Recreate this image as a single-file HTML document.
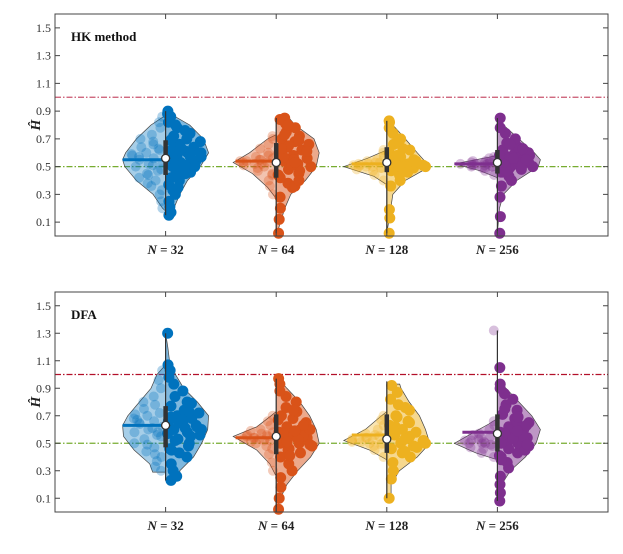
<!DOCTYPE html>
<html><head><meta charset="utf-8">
<style>
html,body{margin:0;padding:0;background:#fff;}
svg{display:block;font-family:"Liberation Serif",serif;}
</style></head>
<body>
<svg id="chart" width="623" height="554" viewBox="0 0 623 554"></svg>
<script>
// ---- data ----
const categories = ["N = 32","N = 64","N = 128","N = 256"];
const panelTitles = ["HK method","DFA"];
const yTicks = [0.1,0.3,0.5,0.7,0.9,1.1,1.3,1.5];
const yTickLabels = ["0.1","0.3","0.5","0.7","0.9","1.1","1.3","1.5"];
const refLines = [1.0,0.5];
const colors = ["#0072BD","#D95319","#EDB120","#7E2F8E"];
// box stats per panel: [q1,q3,median,mean,min,max]
const statsHK = [[0.44,0.69,0.56,0.55,0.15,0.90],[0.42,0.67,0.53,0.54,0.02,0.85],[0.46,0.64,0.53,0.52,0.02,0.83],[0.45,0.62,0.53,0.52,0.02,0.85]];
const statsDFA = [[0.47,0.77,0.63,0.63,0.23,1.30],[0.42,0.71,0.55,0.54,0.00,0.97],[0.43,0.71,0.53,0.56,0.10,0.95],[0.44,0.71,0.57,0.58,0.08,1.32]];
// density profiles: [value, relative width 0..1]
const profHK_L = [
 [[0.18,0],[0.2,0.07],[0.3,0.29],[0.4,0.68],[0.5,0.95],[0.55,1],[0.6,0.93],[0.7,0.68],[0.8,0.34],[0.87,0]],
 [[0.27,0],[0.35,0.2],[0.45,0.55],[0.53,1],[0.6,0.62],[0.7,0.2],[0.73,0]],
 [[0.37,0],[0.43,0.3],[0.5,1],[0.56,0.45],[0.62,0]],
 [[0.42,0],[0.47,0.4],[0.52,1],[0.55,0.5],[0.58,0]]];
const profHK_R = [
 [[0.15,0.2],[0.2,0.19],[0.3,0.33],[0.4,0.51],[0.5,0.81],[0.6,1],[0.7,0.88],[0.8,0.56],[0.9,0]],
 [[0.0,0],[0.1,0.1],[0.2,0.2],[0.3,0.34],[0.4,0.68],[0.5,0.93],[0.6,1],[0.7,0.88],[0.8,0.44],[0.85,0.3],[0.851,0]],
 [[0.02,0],[0.15,0.07],[0.3,0.14],[0.4,0.43],[0.5,1],[0.6,0.71],[0.7,0.43],[0.8,0.14],[0.83,0.08],[0.831,0]],
 [[0.02,0],[0.2,0.05],[0.3,0.14],[0.4,0.45],[0.5,0.95],[0.55,1],[0.6,0.86],[0.7,0.5],[0.8,0.14],[0.85,0]]];
const profDFA_L = [
 [[0.29,0.3],[0.35,0.37],[0.45,0.73],[0.55,0.98],[0.63,1],[0.7,0.88],[0.8,0.61],[0.9,0.34],[1.0,0.2],[1.07,0]],
 [[0.26,0],[0.35,0.15],[0.45,0.45],[0.55,1],[0.62,0.45],[0.7,0.12],[0.73,0]],
 [[0.38,0],[0.45,0.4],[0.52,1],[0.6,0.5],[0.68,0.2],[0.73,0]],
 [[0.38,0],[0.43,0.5],[0.5,1],[0.58,0.55],[0.64,0.2],[0.68,0]]];
const profDFA_R = [
 [[0.23,0.33],[0.3,0.33],[0.4,0.65],[0.5,0.84],[0.6,0.98],[0.7,1],[0.8,0.74],[0.9,0.42],[1.0,0.23],[1.1,0.09],[1.2,0.05],[1.3,0]],
 [[0.0,0],[0.1,0.1],[0.2,0.25],[0.3,0.5],[0.4,0.8],[0.5,1],[0.6,0.93],[0.7,0.78],[0.8,0.55],[0.9,0.25],[0.97,0.05],[0.971,0]],
 [[0.1,0.1],[0.2,0.1],[0.3,0.29],[0.4,0.71],[0.5,1],[0.6,0.9],[0.7,0.76],[0.8,0.52],[0.9,0.33],[0.93,0.3],[0.931,0]],
 [[0.08,0],[0.2,0.1],[0.3,0.3],[0.4,0.65],[0.5,0.9],[0.6,1],[0.7,0.8],[0.8,0.5],[0.9,0.2],[0.97,0]]];
// sample values (left = light scatter, right = dark scatter)
const ptsHK_L = [
 [0.2,0.25,0.3,0.33,0.36,0.4,0.42,0.45,0.47,0.5,0.52,0.53,0.55,0.56,0.58,0.6,0.62,0.64,0.66,0.7,0.73,0.78,0.82,0.86,0.48,0.57,0.51,0.59,0.44,0.63,0.38,0.68],
 [0.3,0.36,0.4,0.44,0.47,0.5,0.51,0.52,0.53,0.54,0.55,0.56,0.57,0.6,0.63,0.66,0.7,0.72,0.52,0.54,0.49,0.58,0.53,0.55,0.45],
 [0.4,0.44,0.47,0.49,0.5,0.5,0.51,0.52,0.53,0.54,0.55,0.57,0.6,0.62,0.52,0.5,0.49,0.51,0.53,0.48],
 [0.44,0.47,0.49,0.5,0.51,0.51,0.52,0.52,0.53,0.53,0.54,0.55,0.56,0.57,0.5,0.52,0.5,0.51,0.53,0.54,0.49,0.52]];
const ptsHK_R = [
 [0.15,0.17,0.21,0.25,0.3,0.33,0.37,0.4,0.43,0.46,0.48,0.5,0.52,0.53,0.55,0.57,0.58,0.6,0.61,0.62,0.64,0.66,0.68,0.7,0.72,0.74,0.78,0.82,0.86,0.9,0.5,0.6,0.56,0.45,0.63,0.88,0.59,0.65,0.54,0.47,0.69,0.76,0.62,0.57,0.51,0.42,0.35,0.8],
 [0.02,0.12,0.2,0.28,0.35,0.38,0.42,0.45,0.48,0.5,0.52,0.54,0.56,0.58,0.6,0.62,0.64,0.66,0.68,0.7,0.72,0.75,0.78,0.81,0.84,0.85,0.55,0.6,0.47,0.65,0.36,0.83,0.57,0.61,0.51,0.44,0.69,0.73,0.4,0.53,0.63,0.8],
 [0.02,0.13,0.19,0.36,0.4,0.44,0.47,0.49,0.5,0.51,0.52,0.53,0.55,0.57,0.6,0.63,0.66,0.7,0.74,0.78,0.82,0.83,0.5,0.48,0.52,0.54,0.5,0.56,0.46,0.58,0.62,0.68,0.5,0.53],
 [0.02,0.14,0.28,0.36,0.4,0.43,0.46,0.48,0.5,0.5,0.51,0.52,0.53,0.54,0.55,0.56,0.57,0.58,0.6,0.62,0.64,0.67,0.7,0.74,0.78,0.85,0.52,0.5,0.55,0.48,0.6,0.53,0.51,0.54,0.56,0.58,0.5,0.47,0.63,0.66,0.52,0.55]];
const ptsDFA_L = [
 [0.3,0.33,0.37,0.4,0.44,0.47,0.5,0.53,0.56,0.58,0.6,0.62,0.64,0.66,0.68,0.7,0.72,0.75,0.78,0.8,0.84,0.9,0.96,1.03,0.55,0.65,0.61,0.71,0.49,0.58,0.67,0.42],
 [0.3,0.36,0.42,0.46,0.5,0.52,0.53,0.54,0.55,0.56,0.57,0.58,0.6,0.63,0.66,0.7,0.52,0.55,0.48,0.59,0.54,0.56,0.51,0.53],
 [0.4,0.45,0.48,0.5,0.51,0.52,0.53,0.54,0.55,0.57,0.6,0.63,0.67,0.7,0.52,0.5,0.49,0.53,0.56,0.51,0.54],
 [0.4,0.43,0.46,0.48,0.5,0.51,0.52,0.53,0.55,0.57,0.6,0.63,0.66,0.5,0.47,0.54,0.49,0.52,0.5,0.56,1.32]];
const ptsDFA_R = [
 [0.23,0.26,0.3,0.35,0.4,0.43,0.46,0.5,0.53,0.56,0.58,0.6,0.62,0.64,0.66,0.68,0.7,0.72,0.74,0.77,0.8,0.84,0.88,0.93,0.98,1.03,1.07,1.3,0.55,0.65,0.6,0.7,0.45,0.63,0.67,0.57,0.73,0.52,0.79,0.61,0.69,0.48],
 [0.02,0.1,0.18,0.25,0.3,0.35,0.4,0.43,0.46,0.48,0.5,0.52,0.54,0.56,0.58,0.6,0.62,0.65,0.68,0.7,0.73,0.76,0.8,0.84,0.88,0.93,0.97,0.5,0.55,0.45,0.6,0.53,0.57,0.63,0.41,0.67,0.74,0.51,0.49,0.59],
 [0.1,0.24,0.3,0.36,0.4,0.43,0.46,0.48,0.5,0.52,0.54,0.56,0.58,0.6,0.63,0.66,0.7,0.74,0.78,0.82,0.87,0.92,0.5,0.55,0.62,0.47,0.53,0.57,0.65,0.69,0.51,0.44,0.59,0.76],
 [0.08,0.14,0.2,0.26,0.32,0.36,0.4,0.43,0.46,0.48,0.5,0.52,0.54,0.56,0.58,0.6,0.62,0.65,0.68,0.71,0.74,0.78,0.82,0.86,0.9,0.93,1.05,0.5,0.55,0.6,0.45,0.65,0.57,0.63,0.53,0.41,0.69,0.75,0.49,0.59,0.38]];

// ---- layout ----
const NS = "http://www.w3.org/2000/svg";
const svg = document.getElementById("chart");
const X0 = 55, X1 = 608, HALFW = 43;
const panels = [
  {top:14, bottom:236, title:panelTitles[0], stats:statsHK, pL:profHK_L, pR:profHK_R, sL:ptsHK_L, sR:ptsHK_R, red:"#c9556f", key:"hk"},
  {top:292, bottom:512, title:panelTitles[1], stats:statsDFA, pL:profDFA_L, pR:profDFA_R, sL:ptsDFA_L, sR:ptsDFA_R, red:"#b3102a", key:"dfa"}
];
function mk(tag, attrs, parent){
  const e = document.createElementNS(NS, tag);
  for (const k in attrs) e.setAttribute(k, attrs[k]);
  (parent||svg).appendChild(e);
  return e;
}
function xScale(i){ return X0 + (X1-X0)*(i+1)/5; }
function widthAt(prof, v){
  if (v <= prof[0][0]) return prof[0][1];
  for (let k=1;k<prof.length;k++){
    if (v <= prof[k][0]){
      const a=prof[k-1], b=prof[k];
      return a[1] + (b[1]-a[1])*(v-a[0])/(b[0]-a[0]);
    }
  }
  return 0;
}

panels.forEach((P, pi) => {
  const yScale = v => P.bottom - v*(P.bottom-P.top)/1.6;
  const g = mk("g", {});
  
  

  refLines.forEach((rv, ri) => {
    const l = mk("line", {x1:X0, x2:X1, y1:yScale(rv), y2:yScale(rv), stroke: ri===0 ? P.red : "#77AC30", "stroke-width":1.2, "stroke-dasharray":"6,2,1.5,2"}, g);
    
    
  });

  categories.forEach((cat, i) => {
    const cx = xScale(i), col = colors[i];
    const vg = mk("g", {}, g);
    
    
    [[P.pL[i], -1],[P.pR[i], 1]].forEach(([prof, dir]) => {
      let d = "M" + cx + "," + yScale(prof[0][0]);
      prof.forEach(p => { d += " L" + (cx + dir*p[1]*HALFW).toFixed(1) + "," + yScale(p[0]).toFixed(1); });
      d += " L" + cx + "," + yScale(prof[prof.length-1][0]) + " Z";
      const path = mk("path", {d:d, fill:col, "fill-opacity": dir<0 ? 0.35 : 0.5, stroke:"#444", "stroke-width":0.7}, vg);
      
      
    });
    P.sL[i].forEach((v, k) => {
      const u = ((k*0.618 + 0.21) % 1);
      const w = widthAt(P.pL[i], v)*HALFW;
      const c = mk("circle", {cx: cx - 3 - u*Math.max(w-6,1), cy: yScale(v), r:5, fill:col, "fill-opacity":0.3}, vg);
      
      
    });
    P.sR[i].forEach((v, k) => {
      const u = ((k*0.618 + 0.37) % 1);
      const w = widthAt(P.pR[i], v)*HALFW;
      const c = mk("circle", {cx: cx + 2 + u*Math.max(w-5,1), cy: yScale(v), r:5.5, fill:col, "fill-opacity":1}, vg);
      
      
    });
    const s = P.stats[i];
    const lw = widthAt(P.pL[i], s[3])*HALFW;
    const ml = mk("line", {x1: cx - Math.max(lw,35), x2: cx, y1: yScale(s[3]), y2: yScale(s[3]), stroke:col, "stroke-width":3}, vg);
    
    
    const wl = mk("line", {x1:cx, x2:cx, y1:yScale(s[4]), y2:yScale(s[5]), stroke:"#333", "stroke-width":1.2}, vg);
    
    
    const bx = mk("line", {x1:cx, x2:cx, y1:yScale(s[0]), y2:yScale(s[1]), stroke:"#333", "stroke-width":4.5}, vg);
    
    
    const md = mk("circle", {cx:cx, cy:yScale(s[2]), r:4, fill:"#fff", stroke:"#333", "stroke-width":1.3}, vg);
    
    

    mk("line", {x1:cx, x2:cx, y1:P.bottom, y2:P.bottom-5, stroke:"#444", "stroke-width":1}, g);
    mk("line", {x1:cx, x2:cx, y1:P.top, y2:P.top+5, stroke:"#444", "stroke-width":1}, g);
    const parts = cat.split(" = ");
    const t = mk("text", {x:cx, y:P.bottom+18, "text-anchor":"middle", "font-size":13, "font-weight":"bold", fill:"#222"}, g);
    t.innerHTML = '<tspan font-style="italic">' + parts[0] + '</tspan> = ' + parts[1];
    
    
  });

  const fr = mk("rect", {x:X0, y:P.top, width:X1-X0, height:P.bottom-P.top, fill:"none", stroke:"#444", "stroke-width":1}, g);
  
  

  yTicks.forEach((tv, k) => {
    const y = yScale(tv);
    mk("line", {x1:X0, x2:X0+5, y1:y, y2:y, stroke:"#444", "stroke-width":1}, g);
    mk("line", {x1:X1, x2:X1-5, y1:y, y2:y, stroke:"#444", "stroke-width":1}, g);
    const t = mk("text", {x:X0-4, y:y+4, "text-anchor":"end", "font-size":12, fill:"#333"}, g);
    t.textContent = yTickLabels[k];
    
    
  });

  const ym = (P.top+P.bottom)/2;
  const yt = mk("text", {x:0, y:0, transform:"translate(40," + ym + ") rotate(-90)", "text-anchor":"middle", "font-size":14, "font-weight":"bold", "font-style":"italic", fill:"#222"}, g);
  yt.textContent = "Ĥ";
  
  

  const pt = mk("text", {x:71, y:P.top+27, "font-size":13, "font-weight":"bold", fill:"#111"}, g);
  pt.textContent = P.title;
  
  
});
</script>
</body></html>
